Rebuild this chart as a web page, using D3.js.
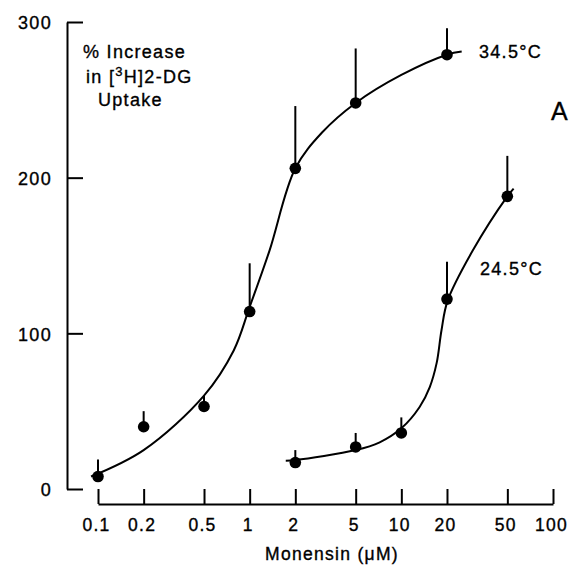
<!DOCTYPE html>
<html>
<head>
<meta charset="utf-8">
<script src="https://cdn.jsdelivr.net/npm/d3@7"></script>
<style>
  body { margin: 0; background: #fff; }
  svg text { font-family: "Liberation Sans", Arial, sans-serif; fill: #000; stroke: #000; stroke-width: 0.35px; }
</style>
</head>
<body>
<svg id="chart" width="576" height="565"></svg>
<script>
// monensin concentrations (uM) and % increase, 34.5 C
const conc34 = [0.1, 0.2, 0.5, 1, 2, 5, 20];
const mean34 = [8, 40, 53, 114, 206, 248, 279];
const se34 = [11, 10, 7, 31, 40, 35, 17];

// 24.5 C
const conc24 = [2, 5, 10, 20, 50];
const mean24 = [17, 27, 36, 122, 188];
const se24 = [8, 9, 10, 24, 26];

// hand drawn fitted curves
const fit34X = [0.09, 0.2, 0.5, 0.785, 1, 1.35, 2, 3, 5, 10, 20, 25];
const fit34Y = [8, 25, 60, 89, 117, 153, 206, 229, 248, 266, 279, 281];
const fit24X = [1.73, 2, 5, 7.2, 10, 13.2, 15.4, 17.1, 18.4, 20.2, 29.5, 50, 55];
const fit24Y = [18.2, 18.6, 25, 30, 39, 52.7, 65.5, 81, 102, 121, 153, 188, 193];

const xTicks = [0.1, 0.2, 0.5, 1, 2, 5, 10, 20, 50, 100];
const yTicks = [0, 100, 200, 300];

const svg = d3.select("#chart");
const x = d3.scaleLog().domain([0.1, 100]).range([98, 553]);
const y = d3.scaleLinear().domain([0, 300]).range([489, 22]);

// y axis, ticks pointing inward
const yAxis = svg.append("g")
  .attr("transform", "translate(67,0)")
  .call(d3.axisLeft(y).tickValues(yTicks).tickSizeInner(-16).tickSizeOuter(0).tickPadding(15));
yAxis.selectAll("path, line").attr("stroke", "#000").attr("stroke-width", 2);
yAxis.selectAll("text").attr("font-size", 18).attr("letter-spacing", "1.3px").attr("dy", "0.38em");

// x axis, ticks pointing up
const xAxis = svg.append("g")
  .attr("transform", "translate(0,504)")
  .call(d3.axisBottom(x).tickValues(xTicks).tickFormat(d => String(d))
    .tickSizeInner(-15).tickSizeOuter(0).tickPadding(15));
xAxis.selectAll("path, line").attr("stroke", "#000").attr("stroke-width", 2);
xAxis.selectAll("text").attr("font-size", 17.5).attr("letter-spacing", "1.3px").attr("dx", -2);

svg.append("text")
  .attr("x", 332).attr("y", 560)
  .attr("text-anchor", "middle")
  .attr("font-size", 17.5).attr("letter-spacing", "1.3px")
  .text("Monensin  (\u03bcM)");

// curves
const line = d3.line()
  .x(d => x(d[0]))
  .y(d => y(d[1]))
  .curve(d3.curveCatmullRom.alpha(0.5));

function drawSeries(cx, cy, fx, fy, se) {
  svg.append("path")
    .datum(d3.zip(fx, fy))
    .attr("d", line)
    .attr("fill", "none")
    .attr("stroke", "#000")
    .attr("stroke-width", 2);
  const pts = d3.zip(cx, cy, se);
  svg.append("g").selectAll("line")
    .data(pts).enter().append("line")
    .attr("x1", d => x(d[0])).attr("x2", d => x(d[0]))
    .attr("y1", d => y(d[1])).attr("y2", d => y(d[1] + d[2]))
    .attr("stroke", "#000").attr("stroke-width", 2);
  svg.append("g").selectAll("circle")
    .data(pts).enter().append("circle")
    .attr("cx", d => x(d[0]))
    .attr("cy", d => y(d[1]))
    .attr("r", 5.8)
    .attr("fill", "#000");
}

drawSeries(conc34, mean34, fit34X, fit34Y, se34);
drawSeries(conc24, mean24, fit24X, fit24Y, se24);

// labels
const lab = svg.append("g").attr("font-size", 18).attr("letter-spacing", "1.3px");
lab.append("text").attr("x", 479).attr("y", 58).text("34.5\u00b0C");
lab.append("text").attr("x", 480).attr("y", 275).text("24.5\u00b0C");
lab.append("text").attr("x", 83).attr("y", 58).text("% Increase");
const t2 = lab.append("text").attr("x", 86).attr("y", 83);
t2.append("tspan").text("in [");
t2.append("tspan").attr("font-size", 13).attr("dy", -7).text("3");
t2.append("tspan").attr("dy", 7).text("H]2-DG");
lab.append("text").attr("x", 98).attr("y", 106).text("Uptake");

svg.append("text").attr("x", 551).attr("y", 120)
  .attr("font-size", 25).text("A");
</script>
</body>
</html>
